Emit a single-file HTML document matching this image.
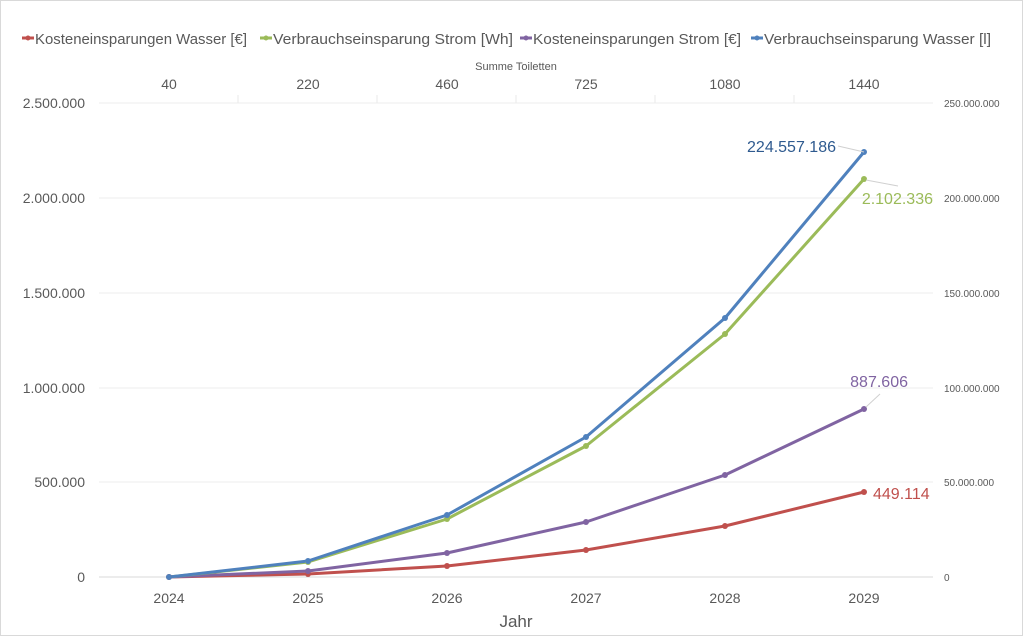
<!DOCTYPE html>
<html><head><meta charset="utf-8"><style>
html,body{margin:0;padding:0;background:#fff}
svg{display:block;font-family:"Liberation Sans",sans-serif}
</style></head><body>
<svg width="1023" height="636" viewBox="0 0 1023 636" xmlns="http://www.w3.org/2000/svg">
<rect x="0.5" y="0.5" width="1022" height="635" fill="#fff" stroke="#d9d9d9"/>
<g font-size="15" fill="#595959">
<line x1="22" y1="38" x2="34" y2="38" stroke="#c0504d" stroke-width="3"/><circle cx="28" cy="38" r="2.5" fill="#c0504d"/>
<text x="35" y="44" textLength="212" lengthAdjust="spacingAndGlyphs">Kosteneinsparungen Wasser [€]</text>
<line x1="260" y1="38" x2="272" y2="38" stroke="#9bbb59" stroke-width="3"/><circle cx="266" cy="38" r="2.5" fill="#9bbb59"/>
<text x="273" y="44" textLength="240" lengthAdjust="spacingAndGlyphs">Verbrauchseinsparung Strom [Wh]</text>
<line x1="520" y1="38" x2="532" y2="38" stroke="#8064a2" stroke-width="3"/><circle cx="526" cy="38" r="2.5" fill="#8064a2"/>
<text x="533" y="44" textLength="208" lengthAdjust="spacingAndGlyphs">Kosteneinsparungen Strom [€]</text>
<line x1="751" y1="38" x2="763" y2="38" stroke="#4f81bd" stroke-width="3"/><circle cx="757" cy="38" r="2.5" fill="#4f81bd"/>
<text x="764" y="44" textLength="227" lengthAdjust="spacingAndGlyphs">Verbrauchseinsparung Wasser [l]</text>
</g>
<text x="516" y="70" font-size="11" fill="#595959" text-anchor="middle">Summe Toiletten</text>
<g font-size="14" fill="#595959" text-anchor="middle">
<text x="169" y="89">40</text><text x="308" y="89">220</text><text x="447" y="89">460</text><text x="586" y="89">725</text><text x="725" y="89">1080</text><text x="864" y="89">1440</text>
</g>
<g stroke="#e8e8e8">
<line x1="238" y1="95" x2="238" y2="103"/><line x1="377" y1="95" x2="377" y2="103"/><line x1="516" y1="95" x2="516" y2="103"/><line x1="655" y1="95" x2="655" y2="103"/><line x1="794" y1="95" x2="794" y2="103"/>
</g>
<g stroke="#ededed">
<line x1="99" y1="103" x2="933" y2="103"/><line x1="99" y1="198" x2="933" y2="198"/><line x1="99" y1="293" x2="933" y2="293"/><line x1="99" y1="388" x2="933" y2="388"/><line x1="99" y1="482" x2="933" y2="482"/>
</g>
<line x1="99" y1="577" x2="933" y2="577" stroke="#d9d9d9"/>
<g font-size="14" fill="#595959" text-anchor="end">
<text x="85" y="108">2.500.000</text><text x="85" y="203">2.000.000</text><text x="85" y="298">1.500.000</text><text x="85" y="393">1.000.000</text><text x="85" y="487">500.000</text><text x="85" y="582">0</text>
</g>
<g font-size="10" fill="#595959">
<text x="944" y="107">250.000.000</text><text x="944" y="202">200.000.000</text><text x="944" y="297">150.000.000</text><text x="944" y="392">100.000.000</text><text x="944" y="486">50.000.000</text><text x="944" y="581">0</text>
</g>
<g font-size="14" fill="#595959" text-anchor="middle">
<text x="169" y="603">2024</text><text x="308" y="603">2025</text><text x="447" y="603">2026</text><text x="586" y="603">2027</text><text x="725" y="603">2028</text><text x="864" y="603">2029</text>
</g>
<text x="516" y="627" font-size="17" fill="#595959" text-anchor="middle">Jahr</text>
<g fill="none" stroke-width="3" stroke-linejoin="round">
<polyline stroke="#c0504d" points="169,577 308,574 447,566 586,550 725,526 864,492"/>
<polyline stroke="#8064a2" points="169,577 308,571 447,553 586,522 725,475 864,409"/>
<polyline stroke="#9bbb59" points="169,577 308,562 447,519 586,446 725,334 864,179"/>
<polyline stroke="#4f81bd" points="169,577 308,561 447,515 586,437 725,318 864,152"/>
</g>
<g fill="#c0504d"><circle cx="169" cy="577" r="3"/><circle cx="308" cy="574" r="3"/><circle cx="447" cy="566" r="3"/><circle cx="586" cy="550" r="3"/><circle cx="725" cy="526" r="3"/><circle cx="864" cy="492" r="3"/></g>
<g fill="#8064a2"><circle cx="308" cy="571" r="3"/><circle cx="447" cy="553" r="3"/><circle cx="586" cy="522" r="3"/><circle cx="725" cy="475" r="3"/><circle cx="864" cy="409" r="3"/></g>
<g fill="#9bbb59"><circle cx="308" cy="562" r="3"/><circle cx="447" cy="519" r="3"/><circle cx="586" cy="446" r="3"/><circle cx="725" cy="334" r="3"/><circle cx="864" cy="179" r="3"/></g>
<g fill="#4f81bd"><circle cx="169" cy="577" r="3"/><circle cx="308" cy="561" r="3"/><circle cx="447" cy="515" r="3"/><circle cx="586" cy="437" r="3"/><circle cx="725" cy="318" r="3"/><circle cx="864" cy="152" r="3"/></g>
<g stroke="#d0d0d0" fill="none">
<polyline points="838,146 864,152"/><polyline points="866,180 898,186"/><polyline points="866,407 880,394"/>
</g>
<g font-size="16">
<text x="836" y="152" fill="#2e5a8f" text-anchor="end">224.557.186</text>
<text x="933" y="204" fill="#9bbb59" text-anchor="end">2.102.336</text>
<text x="908" y="387" fill="#8064a2" text-anchor="end">887.606</text>
<text x="873" y="499" fill="#c0504d">449.114</text>
</g>
</svg>
</body></html>
